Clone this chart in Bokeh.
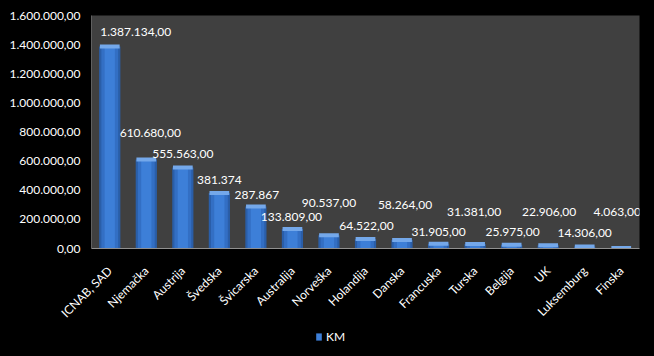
import math
from bokeh.plotting import figure
from bokeh.layouts import column
from bokeh.core.properties import value
from bokeh.models import ColumnDataSource, LabelSet, Legend, LegendItem, FixedTicker, FactorRange, Range1d
from bokeh.embed import file_html
from bokeh.resources import INLINE

categories = ["ICNAB, SAD", "Njemačka", "Austrija", "Švedska", "Švicarska", "Australija",
              "Norveška", "Holandija", "Danska", "Francuska", "Turska", "Belgija", "UK",
              "Luksemburg", "Finska"]
values = [1387134, 610680, 555563, 381374, 287867, 133809, 90537, 64522, 58264,
          31905, 31381, 25975, 22906, 14306, 4063]
value_labels = ["1.387.134,00", "610.680,00", "555.563,00", "381.374", "287.867",
                "133.809,00", "90.537,00", "64.522,00", "58.264,00", "31.905,00",
                "31.381,00", "25.975,00", "22.906,00", "14.306,00", "4.063,00"]
tick_values = [0, 200000, 400000, 600000, 800000, 1000000, 1200000, 1400000, 1600000]
tick_labels = ["0,00", "200.000,00", "400.000,00", "600.000,00", "800.000,00",
               "1.000.000,00", "1.200.000,00", "1.400.000,00", "1.600.000,00"]
series_name = "KM"

# label placement offsets (screen px)
label_dx = [26, 4, 0, 0, 1, -1, 0, 1, 3, 0, -1, 1, 1, 0, -4]
label_dy = [14, 27, 14, 13, 12, 12, 32, 13, 35, 12, 32, 13, 33, 13, 36]

FONT = "Lato"
BAR_COLORS = ["#2a5ea8", "#336fc4", "#3d7fd8"]
BAR_WIDTHS = [0.58, 0.46, 0.28]

src = ColumnDataSource(dict(cat=categories, val=values, lab=value_labels,
                            dx=label_dx, dy=label_dy))

p = figure(width=654, height=330, x_range=FactorRange(*categories, range_padding=0),
           y_range=Range1d(0, 1600000), output_backend="svg", toolbar_location=None,
           min_border_left=91, min_border_right=15, min_border_top=15, min_border_bottom=82)
p.background_fill_color = "#404040"
p.border_fill_color = "#000000"
p.outline_line_color = None
p.xgrid.visible = False
p.ygrid.visible = False

for c, w in zip(BAR_COLORS, BAR_WIDTHS):
    p.vbar(x="cat", top="val", width=w, source=src, fill_color=c, line_color=None)
p.rect(x="cat", y="val", width=0.54, height=4, height_units="screen", source=src,
       fill_color="#74a8ea", line_color=None)

labels = LabelSet(x="cat", y="val", text="lab", x_offset="dx", y_offset="dy", source=src,
                  text_color="white", text_font=value(FONT), text_font_size="12px",
                  text_align="center", text_baseline="middle")
p.add_layout(labels)

p.yaxis.ticker = FixedTicker(ticks=tick_values)
p.yaxis.major_label_overrides = {v: s for v, s in zip(tick_values, tick_labels)}
for ax in (p.xaxis, p.yaxis):
    ax.major_label_text_color = "white"
    ax.major_label_text_font = FONT
    ax.major_label_text_font_size = "12px"
    ax.major_tick_line_color = None
    ax.minor_tick_line_color = None
p.yaxis.axis_line_color = "#606060"
p.xaxis.axis_line_color = "#909090"
p.yaxis.major_label_standoff = 5
p.xaxis.major_label_standoff = 14
p.xaxis.major_label_orientation = math.pi / 4

# legend strip below the chart: the key renderer's categorical bars cannot map onto
# this strip's numeric range, so only its legend swatch is drawn
p2 = figure(width=654, height=26, x_range=Range1d(0, 1), y_range=Range1d(0, 1),
            output_backend="svg", toolbar_location=None, x_axis_location=None,
            y_axis_location=None, min_border=0)
p2.background_fill_color = "#000000"
p2.border_fill_color = "#000000"
p2.outline_line_color = None
p2.xgrid.visible = False
p2.ygrid.visible = False
key = p2.vbar(x="cat", top="val", width=BAR_WIDTHS[0], source=src,
              fill_color=BAR_COLORS[2], line_color=None)

legend = Legend(items=[LegendItem(label=series_name, renderers=[key])],
                location=(224, 12), orientation="horizontal",
                background_fill_alpha=0, border_line_color=None,
                label_text_color="white", label_text_font=FONT, label_text_font_size="12px",
                glyph_width=7, glyph_height=9, label_standoff=4, padding=0, margin=0,
                label_height=14)
p2.add_layout(legend)

layout = column(p, p2, spacing=0, styles={"background-color": "black"})
open("out.html", "w").write(file_html(layout, INLINE))
